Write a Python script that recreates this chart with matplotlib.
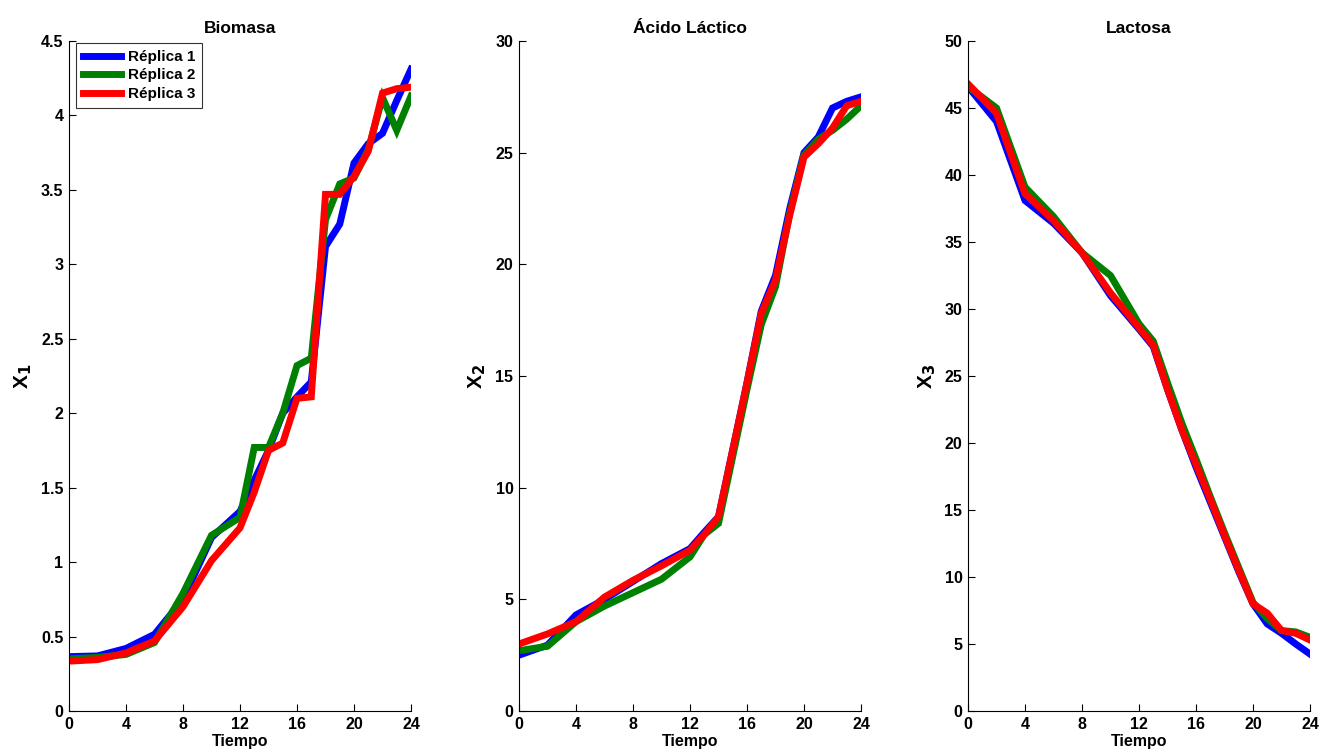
import numpy as np
import matplotlib
matplotlib.use("Agg")
import matplotlib.pyplot as plt

plt.rcParams['font.family'] = ['Liberation Sans', 'DejaVu Sans']
plt.rcParams['font.weight'] = 'bold'

# time points (hours)
tiempo = [0, 2, 4, 6, 8, 10, 12, 13, 14, 15, 16, 17, 18, 19, 20, 21, 22, 23, 24]

# Biomasa (X1)
bio_r1 = [0.365, 0.37, 0.42, 0.515, 0.75, 1.165, 1.34, 1.55, 1.75, 2.0, 2.11, 2.21,
          3.12, 3.27, 3.68, 3.81, 3.88, 4.1, 4.31]
bio_r2 = [0.35, 0.36, 0.38, 0.46, 0.79, 1.18, 1.30, 1.77, 1.77, 2.0, 2.32, 2.37,
          3.3, 3.54, 3.58, 3.77, 4.12, 3.9, 4.13]
bio_r3 = [0.335, 0.345, 0.39, 0.47, 0.70, 1.01, 1.23, 1.47, 1.75, 1.80, 2.10, 2.11,
          3.47, 3.47, 3.59, 3.76, 4.15, 4.18, 4.19]

# Ácido Láctico (X2)
lac_r1 = [2.5, 2.95, 4.3, 5.0, 5.8, 6.6, 7.27, 8.0, 8.7, 11.7, 14.7, 17.9,
          19.5, 22.5, 25.0, 25.7, 27.0, 27.3, 27.5]
lac_r2 = [2.7, 2.9, 4.0, 4.7, 5.3, 5.9, 6.9, 7.9, 8.4, 11.4, 14.4, 17.3,
          19.0, 22.3, 24.9, 25.6, 26.0, 26.5, 27.1]
lac_r3 = [3.0, 3.45, 4.0, 5.1, 5.85, 6.5, 7.2, 7.9, 8.7, 11.7, 14.7, 17.8,
          19.3, 22.2, 24.8, 25.4, 26.1, 27.1, 27.3]

# Lactosa (X3)
lct_r1 = [46.6, 44.0, 38.1, 36.4, 34.2, 31.0, 28.5, 27.2, 24.0, 21.0, 18.2, 15.6,
          13.0, 10.4, 8.0, 6.5, 5.8, 5.0, 4.25]
lct_r2 = [46.6, 45.0, 39.1, 36.9, 34.2, 32.5, 28.9, 27.6, 24.5, 21.5, 18.8, 16.0,
          13.3, 10.7, 8.1, 6.9, 6.0, 5.9, 5.5]
lct_r3 = [46.8, 44.6, 38.6, 36.6, 34.2, 31.2, 28.6, 27.3, 24.0, 21.0, 18.4, 15.8,
          13.1, 10.5, 8.0, 7.3, 6.0, 5.8, 5.3]

titulos = ['Biomasa', 'Ácido Láctico', 'Lactosa']
ylabels = ['X$_\\mathbf{1}$', 'X$_\\mathbf{2}$', 'X$_\\mathbf{3}$']
etiquetas = ['Réplica 1', 'Réplica 2', 'Réplica 3']
colores = ['#0000ff', '#008000', '#ff0000']
ylims = [(0, 4.5), (0, 30), (0, 50)]
yticks = [np.arange(0, 4.51, 0.5), np.arange(0, 31, 5), np.arange(0, 51, 5)]
xticks = [0, 4, 8, 12, 16, 20, 24]

datos = [[bio_r1, bio_r2, bio_r3], [lac_r1, lac_r2, lac_r3], [lct_r1, lct_r2, lct_r3]]

fig = plt.figure(figsize=(13.32, 7.56), dpi=100)
lefts = [69 / 1332, 519 / 1332, 968 / 1332]
width = 342 / 1332
bottom = 45 / 756
height = 670 / 756

for i in range(3):
    ax = fig.add_axes([lefts[i], bottom, width, height])
    for serie, col, lab in zip(datos[i], colores, etiquetas):
        ax.plot(tiempo, serie, color=col, lw=5, label=lab, solid_joinstyle='miter')
    ax.set_xlim(0, 24)
    ax.set_ylim(*ylims[i])
    ax.set_xticks(xticks)
    ax.set_yticks(yticks[i])
    ax.set_yticklabels([f'{v:g}' for v in yticks[i]])
    ax.spines['top'].set_visible(False)
    ax.spines['right'].set_visible(False)
    ax.tick_params(direction='in', length=5, width=0.8, labelsize=11.5, pad=4)
    for lbl in ax.get_xticklabels() + ax.get_yticklabels():
        lbl.set_fontweight('bold')
    ax.set_title(titulos[i], fontsize=12.5, fontweight='bold', pad=6)
    ax.set_xlabel('Tiempo', fontsize=11.5, fontweight='bold', labelpad=2)
    ax.set_ylabel(ylabels[i], fontsize=15, fontweight='bold', labelpad=5)
    if i == 0:
        leg = ax.legend(loc='upper left', bbox_to_anchor=(7 / 342, 0.997),
                        fontsize=11, frameon=True, fancybox=False,
                        edgecolor='black', handlelength=2.5, borderaxespad=0,
                        labelspacing=0.3, borderpad=0.45, handletextpad=0.45)
        leg.get_frame().set_linewidth(0.8)
        for t in leg.get_texts():
            t.set_fontweight('bold')

fig.savefig('out.png', dpi=100)
